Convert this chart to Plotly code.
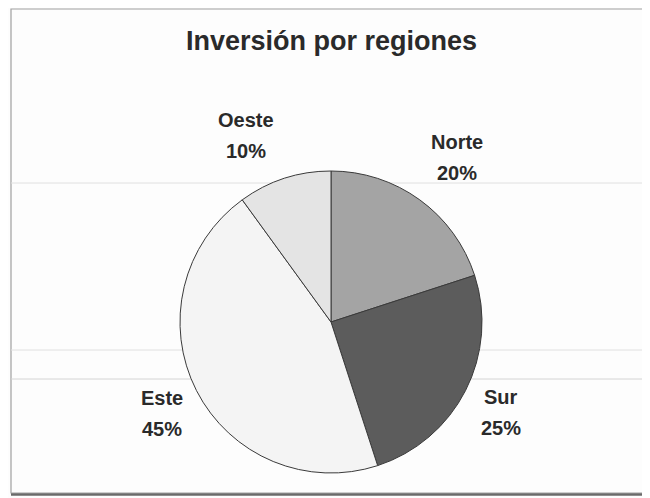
import math
import plotly.graph_objects as go

# Data
regions = ["Norte", "Sur", "Este", "Oeste"]
shares = [20, 25, 45, 10]
colors = ["#a4a4a4", "#5c5c5c", "#f4f4f4", "#e4e4e4"]
title_text = "Inversión por regiones"

# page offset (browser body margin) and figure size
OX, OY = 8, 8
W, H = 642, 490
cx, cy, R = 331 - OX, 322 - OY, 151  # pie centre/radius in figure pixels

# label offsets (pixels) from each slice's rim mid-point
label_offsets = [(37, -42), (35, 22), (-34, 23), (-38, -43)]


def px2paper(x, y):
    return x / W, 1 - y / H


fig = go.Figure(go.Pie(
    labels=regions,
    values=shares,
    sort=False,
    direction="clockwise",
    rotation=0,
    marker=dict(colors=colors, line=dict(color="#3a3a3a", width=1)),
    textinfo="none",
    hoverinfo="label+percent",
    showlegend=False,
    domain=dict(x=[(cx - R) / W, (cx + R) / W],
                y=[(H - cy - R) / H, (H - cy + R) / H]),
))

total = sum(shares)
cum = 0
annotations = []
font_family = "Liberation Sans, Arial, sans-serif"
for name, v, (ox, oy) in zip(regions, shares, label_offsets):
    mid = (cum + v / 2) / total * 2 * math.pi
    cum += v
    px = cx + R * math.sin(mid) + ox
    py = cy - R * math.cos(mid) + oy
    pct = f"{round(v / total * 100)}%"
    for txt, dy in ((name, -15.5), (pct, 15.5)):
        xp, yp = px2paper(px, py + dy)
        annotations.append(dict(
            x=xp, y=yp, xref="paper", yref="paper",
            text=txt, showarrow=False, xanchor="center", yanchor="middle",
            font=dict(family=font_family, size=20, color="#2a2a2a", weight="bold"),
        ))

tx, ty = px2paper(331 - OX, 41 - OY)
annotations.append(dict(
    x=tx, y=ty, xref="paper", yref="paper",
    text=title_text, showarrow=False, xanchor="center", yanchor="middle",
    font=dict(family=font_family, size=27, color="#2a2a2a", weight="bold"),
))

fx0, fx1 = (11 - OX) / W, (648 - OX) / W
shapes = [
    dict(type="rect", xref="paper", yref="paper",
         x0=fx0, x1=fx1, y0=1 - (493 - OY) / H, y1=1 - 1 / H,
         line=dict(color="#a0a0a0", width=1.2), layer="below"),
    dict(type="line", xref="paper", yref="paper",
         x0=fx0, x1=fx1, y0=1 - (494.5 - OY) / H, y1=1 - (494.5 - OY) / H,
         line=dict(color="#6a6a6a", width=2.5), layer="below"),
]
for yy, col in ((183, "#e0e0e0"), (350, "#e0e0e0"), (379, "#d4d4d4")):
    yp = 1 - (yy - OY) / H
    shapes.append(dict(type="line", xref="paper", yref="paper",
                       x0=fx0, x1=fx1, y0=yp, y1=yp,
                       line=dict(color=col, width=1), layer="below"))

fig.update_layout(
    width=W, height=H,
    margin=dict(l=0, r=0, t=0, b=0),
    paper_bgcolor="#fdfdfd",
    plot_bgcolor="#fdfdfd",
    annotations=annotations,
    shapes=shapes,
)

fig.write_html("out.html")
